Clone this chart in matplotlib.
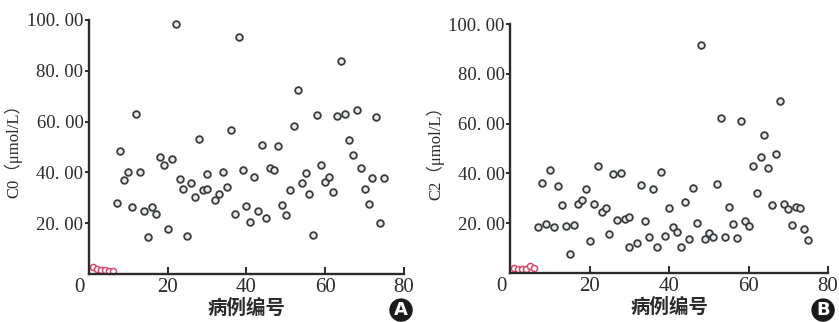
import matplotlib.pyplot as plt
import matplotlib.transforms as mtransforms

# case numbers and values
red_case = [1, 2, 3, 4, 5, 6]
red_c0 = [2.6, 1.9, 1.4, 1.5, 1.2, 1.0]
red_c2 = [1.9, 1.6, 1.6, 1.8, 2.8, 2.0]

case_no = [7, 8, 9, 10, 11, 12, 13, 14, 15, 16, 17, 18, 19, 20, 21, 22, 23, 24,
           25, 26, 27, 28, 29, 30, 30, 32, 33, 34, 35, 36, 37, 38, 39, 40, 41,
           42, 43, 44, 45, 46, 47, 48, 49, 50, 51, 52, 53, 54, 55, 56, 57, 58,
           59, 60, 61, 62, 63, 64, 65, 66, 67, 68, 69, 70, 71, 72, 73, 74, 75]

c0 = [28.1, 48.5, 36.9, 40.2, 26.4, 62.9, 40.3, 25.0, 14.6, 26.4, 23.7, 46.2,
      43.1, 17.8, 45.3, 98.6, 37.4, 33.6, 15.0, 35.9, 30.5, 53.0, 32.9, 33.4,
      39.5, 29.0, 31.5, 40.2, 34.4, 56.6, 23.8, 93.4, 40.9, 26.6, 20.3, 38.2,
      25.0, 50.8, 22.0, 41.9, 41.0, 50.2, 27.0, 23.4, 33.1, 58.3, 72.5, 36.0,
      39.9, 31.4, 15.3, 62.5, 42.8, 36.1, 38.2, 32.1, 62.1, 83.9, 62.9, 52.8,
      46.9, 64.5, 41.6, 33.4, 27.6, 37.6, 62.0, 19.9, 37.7]

c2 = [18.7, 36.1, 19.9, 41.6, 18.7, 34.8, 27.5, 19.1, 7.5, 19.2, 27.8, 29.3,
      33.6, 12.8, 27.7, 43.0, 24.7, 26.3, 15.6, 39.9, 21.2, 40.0, 21.9, 22.6,
      10.5, 12.2, 35.3, 21.1, 14.5, 33.6, 10.6, 40.7, 14.9, 26.3, 18.7, 16.4,
      10.3, 28.5, 13.6, 34.0, 20.1, 91.7, 13.8, 16.0, 14.5, 35.6, 62.1, 14.5,
      26.4, 19.9, 14.2, 60.9, 21.1, 18.9, 43.1, 32.1, 46.7, 55.6, 42.4, 27.4,
      47.8, 69.3, 27.9, 25.9, 19.5, 26.4, 26.0, 17.9, 13.3]

yticks = [20, 40, 60, 80, 100]
ytick_labels = ["20. 00", "40. 00", "60. 00", "80. 00", "100. 00"]
xticks = [0, 20, 40, 60, 80]

panels = [
    ([0.106, 0.149, 0.3755, 0.789], c0, red_c0, "C0（μmol/L）", "A", 0.478),
    ([0.608, 0.152, 0.379, 0.773], c2, red_c2, "C2（μmol/L）", "B", 0.981),
]

fig = plt.figure(figsize=(8.39, 3.22), dpi=100)
serif = ["Liberation Serif", "Noto Sans CJK SC"]
ink = '#2b2b2b'

for rect, vals, red_vals, ylab, letter, lx in panels:
    ax = fig.add_axes(rect)
    ax.plot(case_no, vals, 'o', ms=4.8, mfc='#e4ecef', mec='#3c3c3c', mew=1.3,
            clip_on=False)
    ax.plot(red_case, red_vals, 'o', ms=4.4, mfc='white', mec='#d9476a', mew=1.1,
            clip_on=False)
    ax.set_xlim(0, 80)
    ax.set_ylim(0, 100)
    for s in ['top', 'right']:
        ax.spines[s].set_visible(False)
    for s in ['left', 'bottom']:
        ax.spines[s].set_linewidth(1.7)
        ax.spines[s].set_color(ink)
    ax.set_yticks(yticks)
    ax.set_yticklabels(ytick_labels, family=serif, fontsize=13.5, color=ink)
    ax.set_xticks(xticks)
    ax.set_xticklabels([str(t) for t in xticks], family=serif, fontsize=15,
                       color=ink)
    ax.tick_params(axis='y', direction='out', length=3, width=1.4, pad=1,
                   color=ink)
    ax.tick_params(axis='x', direction='in', length=5, width=1.4, pad=3,
                   color=ink)
    # move the "0" a bit to the left, as in the source
    lab0 = ax.get_xticklabels()[0]
    lab0.set_transform(lab0.get_transform() +
                       mtransforms.ScaledTranslation(-0.09, 0, fig.dpi_scale_trans))
    ax.xaxis.get_major_ticks()[0].tick1line.set_visible(False)
    ax.set_ylabel(ylab, family=serif, fontsize=12, color=ink, labelpad=3)
    ax.set_xlabel("病例编号", family=["Noto Sans CJK SC"], fontsize=14,
                  fontweight='bold', color=ink, labelpad=1)
    fig.text(lx, 0.037, letter, ha='center', va='center', color='white',
             fontsize=13, fontweight='bold', family=["DejaVu Sans"],
             bbox=dict(boxstyle='circle,pad=0.15', fc='#1a1a1a', ec='none'))

fig.savefig("out.png", dpi=100, facecolor='white')
